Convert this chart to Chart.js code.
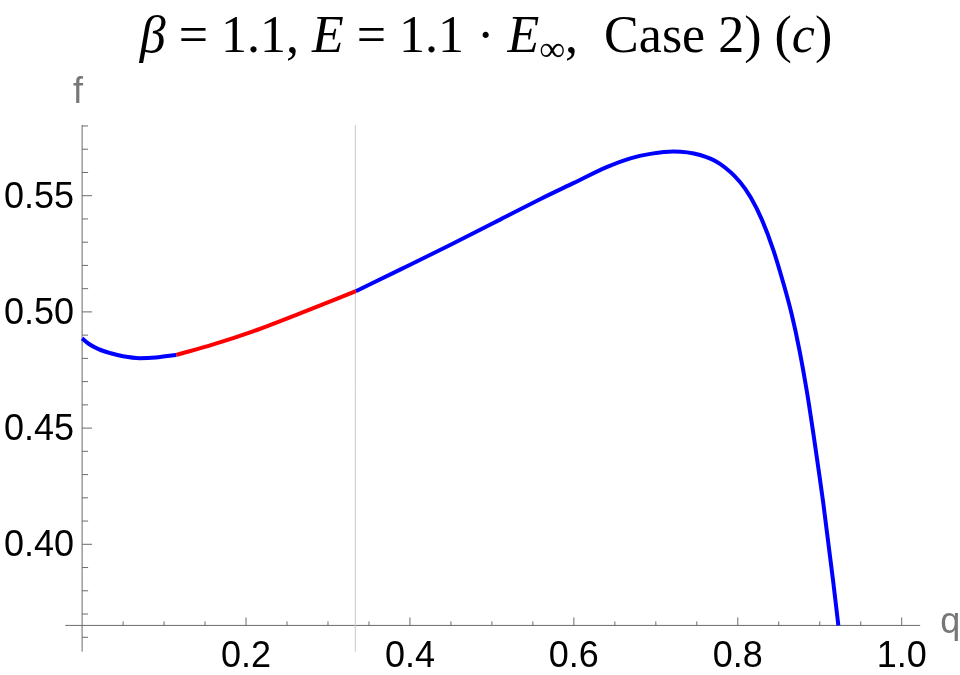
<!DOCTYPE html>
<html>
<head>
<meta charset="utf-8">
<script src="https://cdn.jsdelivr.net/npm/chart.js@4.4.1/dist/chart.umd.min.js"></script>
<style>
  html, body { margin: 0; padding: 0; background: #fff; }
  #chart-container { width: 960px; height: 675px; }
</style>
</head>
<body>
<div id="chart-container"><canvas id="chart" width="960" height="675"></canvas></div>
<script>
// curve, split where the colour changes
const qBlueStart = [0.000, 0.008, 0.020, 0.035, 0.050, 0.070, 0.090, 0.115];
const fBlueStart = [0.4886, 0.4863, 0.4840, 0.4822, 0.4809, 0.4801, 0.4804, 0.4815];

const qRed = [0.115, 0.160, 0.205, 0.266, 0.334];
const fRed = [0.4815, 0.4860, 0.4912, 0.4994, 0.5089];

const qBlueEnd = [0.334, 0.388, 0.449, 0.510, 0.560, 0.600, 0.640, 0.670, 0.695, 0.7213,
                  0.754, 0.7783, 0.8027, 0.816, 0.8295, 0.8435, 0.8559, 0.8654, 0.8752, 0.8846,
                  0.8921, 0.8980, 0.9040, 0.9162, 0.9227];
const fBlueEnd = [0.5089, 0.5182, 0.5288, 0.5397, 0.5487, 0.5555, 0.5623, 0.5662, 0.5681, 0.5690,
                  0.5675, 0.5637, 0.5559, 0.5491, 0.5396, 0.5265, 0.5120, 0.4995, 0.4836, 0.4651,
                  0.4479, 0.4335, 0.4185, 0.3845, 0.3651];

// thin vertical marker line
const markerQ = [1 / 3];

// axes
const xRange = [-0.0205, 1.0225];
const yRange = [0.3538, 0.5804];
const axisCross = { q: 0, f: 0.3651 };
const xMajorTicks = [0.2, 0.4, 0.6, 0.8, 1.0];
const xTickLabels = ['0.2', '0.4', '0.6', '0.8', '1.0'];
const xMinorTicks = [0.05, 0.1, 0.15, 0.25, 0.3, 0.35, 0.45, 0.5, 0.55, 0.65, 0.7, 0.75, 0.85, 0.9, 0.95];
const yMajorTicks = [0.40, 0.45, 0.50, 0.55];
const yTickLabels = ['0.40', '0.45', '0.50', '0.55'];
const yMinorTicks = [0.36, 0.37, 0.38, 0.39, 0.41, 0.42, 0.43, 0.44, 0.46, 0.47, 0.48, 0.49,
                     0.51, 0.52, 0.53, 0.54, 0.56, 0.57, 0.58];

const toPoints = (qs, fs) => qs.map((q, i) => ({ x: q, y: fs[i] }));

const axisColor = '#6b6b6b';
const labelFont = '36px "Liberation Sans", Arial, sans-serif';

const mmaAxes = {
    id: 'mmaAxes',
    beforeDatasetsDraw: (chart) => {
        const { ctx, scales } = chart;
        const x = scales.x, y = scales.y;
        const x0 = x.getPixelForValue(axisCross.q);
        const y0 = y.getPixelForValue(axisCross.f);
        ctx.save();
        ctx.strokeStyle = axisColor;
        ctx.lineWidth = 1;
        ctx.beginPath();
        ctx.moveTo(x.getPixelForValue(xRange[0]), y0);
        ctx.lineTo(x.getPixelForValue(xRange[1]), y0);
        ctx.moveTo(x0, y.getPixelForValue(yRange[0]));
        ctx.lineTo(x0, y.getPixelForValue(yRange[1]));
        xMajorTicks.forEach(t => { const px = x.getPixelForValue(t); ctx.moveTo(px, y0); ctx.lineTo(px, y0 - 8); });
        xMinorTicks.forEach(t => { const px = x.getPixelForValue(t); ctx.moveTo(px, y0); ctx.lineTo(px, y0 - 4); });
        yMajorTicks.forEach(t => { const py = y.getPixelForValue(t); ctx.moveTo(x0, py); ctx.lineTo(x0 + 10, py); });
        yMinorTicks.forEach(t => { const py = y.getPixelForValue(t); ctx.moveTo(x0, py); ctx.lineTo(x0 + 6, py); });
        ctx.stroke();

        ctx.fillStyle = '#000';
        ctx.font = labelFont;
        ctx.textBaseline = 'alphabetic';
        ctx.textAlign = 'center';
        xMajorTicks.forEach((t, i) => ctx.fillText(xTickLabels[i], x.getPixelForValue(t), y0 + 42));
        ctx.textAlign = 'right';
        yMajorTicks.forEach((t, i) => ctx.fillText(yTickLabels[i], x0 - 8, y.getPixelForValue(t) + 12));

        ctx.fillStyle = '#777';
        ctx.textAlign = 'left';
        ctx.fillText('q', x.getPixelForValue(xRange[1]) + 20, y0 + 8);
        ctx.textAlign = 'center';
        ctx.fillText('f', x0 - 4, y.getPixelForValue(yRange[1]) - 22);
        ctx.restore();
    }
};

// title with italic symbols, drawn as text pieces
const titleParts = [
    { t: 'β', it: true }, { t: ' = 1.1, ' }, { t: 'E', it: true }, { t: ' = 1.1 · ' },
    { t: 'E', it: true }, { t: '∞', sub: true }, { t: ',  Case 2) (' }, { t: 'c', it: true }, { t: ')' }
];
const mmaTitle = {
    id: 'mmaTitle',
    afterDraw: (chart) => {
        const { ctx } = chart;
        const size = 52;
        const fontFor = p => (p.it ? 'italic ' : '') + (p.sub ? size * 0.7 : size) + 'px "Liberation Serif", "Times New Roman", serif';
        ctx.save();
        let total = 0;
        titleParts.forEach(p => { ctx.font = fontFor(p); total += ctx.measureText(p.t).width; });
        let cx = 486 - total / 2;
        ctx.fillStyle = '#000';
        ctx.textBaseline = 'alphabetic';
        ctx.textAlign = 'left';
        titleParts.forEach(p => {
            ctx.font = fontFor(p);
            ctx.fillText(p.t, cx, p.sub ? 61 : 52);
            cx += ctx.measureText(p.t).width;
        });
        ctx.restore();
    }
};

const lineStyle = { showLine: true, borderWidth: 4, pointRadius: 0, fill: false, cubicInterpolationMode: 'monotone' };

new Chart(document.getElementById('chart').getContext('2d'), {
    type: 'scatter',
    data: {
        datasets: [
            { ...lineStyle, data: toPoints(qBlueStart, fBlueStart), borderColor: '#0000ff', order: 1 },
            { ...lineStyle, data: toPoints(qRed, fRed), borderColor: '#ff0000', order: 1 },
            { ...lineStyle, data: toPoints(qBlueEnd, fBlueEnd), borderColor: '#0000ff', order: 1 },
            {
                showLine: true, pointRadius: 0, borderWidth: 1, borderColor: '#c8c8c8', order: 2,
                data: [{ x: markerQ[0], y: yRange[0] }, { x: markerQ[0], y: yRange[1] }]
            }
        ]
    },
    options: {
        responsive: false,
        animation: false,
        devicePixelRatio: 1,
        layout: { padding: { left: 65.71, right: 25.5, top: 102.74, bottom: 14.5 } },
        plugins: { legend: { display: false }, title: { display: false }, tooltip: { enabled: false } },
        scales: {
            x: { type: 'linear', min: -0.02, max: 1.04, display: false },
            y: { type: 'linear', min: 0.35, max: 0.59, display: false }
        }
    },
    plugins: [mmaAxes, mmaTitle]
});
</script>
</body>
</html>
